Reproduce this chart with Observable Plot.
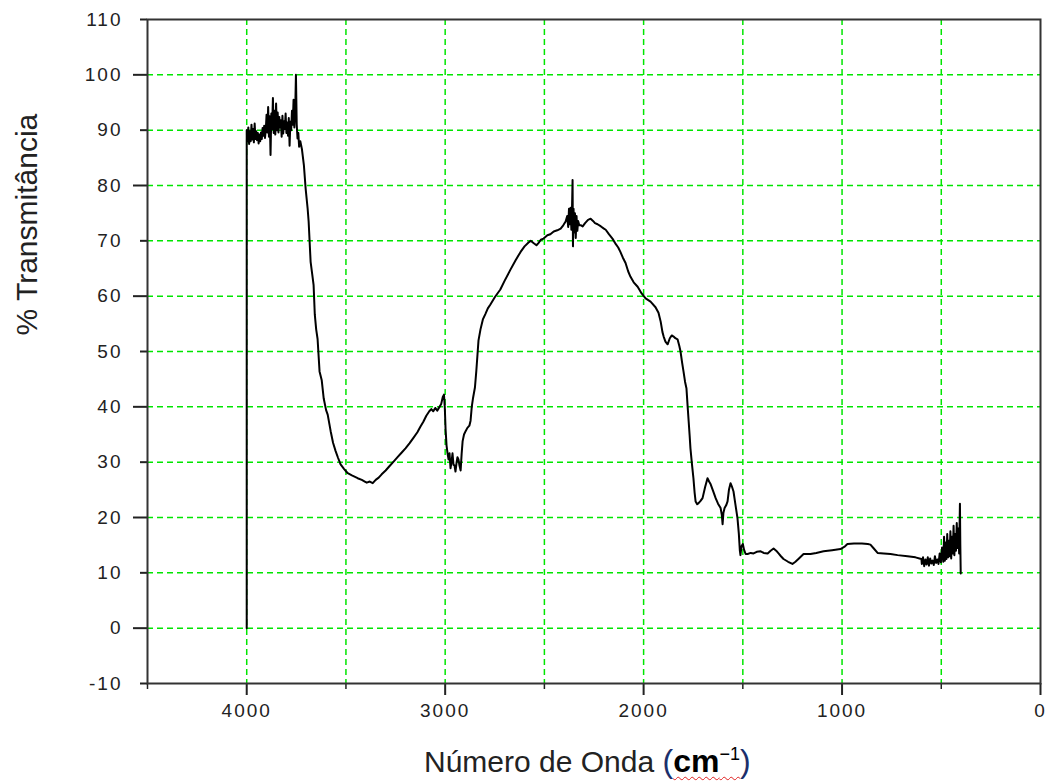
<!DOCTYPE html>
<html>
<head>
<meta charset="utf-8">
<script src="https://cdn.jsdelivr.net/npm/d3@7"></script>
<script src="https://cdn.jsdelivr.net/npm/@observablehq/plot@0.6"></script>
<style>
  html, body { margin: 0; padding: 0; background: #fff; }
  #wrap { position: relative; width: 1047px; height: 782px; overflow: hidden; }
  g[aria-label$="tick label"] text { letter-spacing: 2px; }
  #xlabel { position: absolute; left: 424px; top: 736px; font-family: "Liberation Sans", Arial, sans-serif;
            font-size: 30px; color: #222; white-space: nowrap; line-height: 36px; }
  #xlabel .unit { color: #1c2f6b; font-size: 32px; }
  #xlabel .cm { color: #000; font-weight: bold; text-decoration: underline wavy #e02020; text-decoration-thickness: 1px; text-underline-offset: 4px; }
  #xlabel sup { font-size: 18px; font-weight: normal; }
</style>
</head>
<body>
<div id="wrap"></div>
<script>
// Wavenumber (cm^-1) and % transmittance
const wavenumber = [
4000,4000,3996,3992,3988,3984,3980,3976,3972,3968,3964,3960,3956,3952,3948,3944,3940,3936,3932,3928,
3924,3920,3916,3912,3908,3904,3900,3896,3892,3888,3884,3880,3876,3872,3868,3864,3860,3856,3852,3848,
3844,3840,3836,3832,3828,3824,3820,3816,3812,3808,3804,3800,3796,3792,3788,3784,3780,3776,3772,3768,
3764,3760,3756,3752,3748,3744,3740,3736,3730,3722,
3712,3703,3693,3688,3678,3670,3663,3657,3650,3643,
3633,3622,3612,3600,3592,3577,3565,3552,3540,3527,
3510,3491,3470,3441,3420,3405,3395,3380,3365,3350,
3335,3320,3300,3280,3260,3240,3220,3200,3180,3160,
3140,3125,3110,3095,3080,3070,3060,3050,3040,3030,
3020,3012,3006,3002,2998,2993,2988,2983,2978,2973,
2968,2963,2958,2953,2948,2943,2938,2933,2928,2922,
2917,2912,2905,2897,2888,2878,2872,2866,2860,2850,
2843,2837,2832,2822,2810,2797,2785,2772,2750,2722,
2700,2671,2645,2620,2600,2580,2569,2555,2540,2530,
2518,2504,2485,2470,2453,2435,2418,2405,2393,2385,
2380,2376,2372,2368,2364,2361,2358,2356,2353,2350,
2346,2342,2338,2334,2330,2324,2315,2307,2295,2280,
2267,2255,2245,2232,2215,2200,2191,2175,2157,2140,
2128,2117,2105,2091,2078,2066,2050,2030,2010,1990,
1965,1940,1925,1914,1905,1899,1890,1879,1868,1858,
1849,1840,1829,1820,1814,1806,1799,1791,1784,1778,
1773,1768,1764,1756,1749,1743,1738,1730,1723,1713,
1703,1690,1678,1670,1662,1650,1637,1625,1612,1606,
1602,1598,1592,1584,1577,1570,1562,1555,1547,1538,
1527,1520,1515,1512,1507,1500,1494,1486,1476,1460,
1446,1430,1410,1395,1375,1360,1345,1332,1320,1308,
1295,1272,1250,1235,1220,1194,1175,1159,1130,1093,
1050,1008,985,973,940,900,870,857,840,821,
790,756,720,670,630,610,600,598,592,586,
580,574,568,562,556,550,544,538,532,526,
520,514,508,502,496,490,486,482,478,474,
470,466,462,458,454,450,446,442,438,434,
430,426,422,418,414,410,406,404,402
];
const transmittance = [
0,90,88,90.5,87.5,89.8,88,91,88.3,90.2,87.8,91.2,88.4,89.8,88.2,89.5,87.6,89.2,88,89.6,
88.4,90.4,89,90.8,88.6,90,92.8,89.6,94.2,88.8,92.5,85.5,93,90.2,95.8,89.5,93.5,89.2,94.8,90,
93.2,89.6,92.4,90.5,91.8,88.8,92.6,89.4,91.6,90.2,93,89.5,91.4,89,92.2,87.2,91.5,90,93.5,91,
95.5,90.5,93,100,91,88.5,89.5,87,88,86.6,
83.7,79.4,75.8,73.5,66.2,64,62,56.7,54,52.3,
46.4,44.8,41.5,39.4,38.6,35.6,33.5,32,30.8,29.6,
28.8,28,27.6,27.1,26.8,26.5,26.3,26.5,26.2,26.8,
27.2,27.8,28.5,29.3,30.1,30.9,31.7,32.5,33.4,34.4,
35.4,36.4,37.3,38.4,39.2,39.6,39.2,39.8,39.3,39.9,
40.5,41.8,42.2,40,36,33,31.6,30.5,31.6,28.9,
30,31.6,29.5,29.4,28.3,29.8,30.9,30.5,29.4,28.5,
31.5,33.8,35,35.6,36.2,36.6,37.5,40,41.5,43.5,
46.5,49.5,52,54,55.8,56.8,57.8,58.5,59.8,61.2,
62.8,64.8,66.5,68,69,69.7,70,69.6,69.2,69.6,
70.2,70.4,71,71.2,71.7,71.9,72.2,72.8,73.5,74.5,
72.5,75.8,73,76,72,75.5,81,69,75.8,71.5,
75,70.5,74.5,71.8,73.6,72.8,72.8,72.6,73.2,73.8,
74,73.6,73.2,73,72.6,72.2,72,71.2,70.4,69.4,
68.8,68,67,66,64.5,63.5,62.5,61.7,60.5,59.6,
59,58,57,55.4,53.5,52.7,51.8,51.3,52.4,52.9,
52.7,52.4,52.2,51,50,48,46.4,44.5,43.3,40,
37.4,34.8,32.5,29.5,27.1,24.5,22.9,22.4,22.6,23,
23.5,25.5,27.1,26.5,26,24.8,23.5,22.5,21.7,20.5,
18.8,20.8,21.7,22.2,22.9,25,26.2,25.6,24.7,22.5,
19.9,17,14,13.2,14.8,15.2,14.2,13.4,13.4,13.6,
13.5,13.8,13.9,13.6,13.5,14,14.4,14,13.5,13,
12.5,12,11.6,12,12.5,13.4,13.4,13.4,13.6,13.9,
14.1,14.3,14.8,15.2,15.3,15.3,15.2,15.1,14.4,13.6,
13.5,13.4,13.2,13,12.8,12.6,12.5,11.6,12.8,11.2,
12.4,11.5,12.8,11.3,12.6,11.7,12.2,11.4,13,11.8,
12.4,11.6,13.5,11.9,14.6,12,16.5,12.2,15.5,12.5,
17,12.8,15.8,13,17.5,12.6,16.5,13.5,18.5,13.2,
17,14,19,14.5,18,13.5,22.5,15,9.9
];

const xMajor = [4000, 3000, 2000, 1000, 0];
const xMinor = [4500, 3500, 2500, 1500, 500];
const xGrid = [4000, 3500, 3000, 2500, 2000, 1500, 1000, 500];
const yMajor = [100, 80, 60, 40, 20, 0];
const yMinor = [110, 90, 70, 50, 30, 10, -10];
const yGrid = [100, 90, 80, 70, 60, 50, 40, 30, 20, 10, 0];
const yTitle = "% Transmitância";

const spectrum = wavenumber.map((w, i) => ({w, t: transmittance[i]}));

const gridStyle = {stroke: "#00e600", strokeOpacity: 1, strokeWidth: 1.5, strokeDasharray: "6,4"};
const tickFont = {fontSize: 19, fill: "#222"};
const plain = d => String(d);

const chart = Plot.plot({
  width: 1047,
  height: 735,
  marginTop: 19,
  marginBottom: 52,
  marginLeft: 147,
  marginRight: 7,
  style: {fontFamily: "'Liberation Sans', Arial, sans-serif", color: "#222", background: "#fff"},
  x: {domain: [4500, 0], label: null},
  y: {domain: [-10, 110], label: null},
  marks: [
    Plot.gridX(xGrid, gridStyle),
    Plot.gridY(yGrid, gridStyle),
    Plot.axisX({ticks: xMajor, tickSize: 12, tickPadding: 8, tickFormat: plain, stroke: "#222", strokeWidth: 2, ...tickFont, label: null}),
    Plot.axisX({ticks: xMinor, tickSize: 6, tickFormat: () => "", stroke: "#222", strokeWidth: 1.5, label: null}),
    Plot.axisY({ticks: yMajor, tickSize: 14, tickPadding: 11, tickFormat: plain, stroke: "#222", strokeWidth: 2, ...tickFont, label: null}),
    Plot.axisY({ticks: yMinor, tickSize: 7, tickPadding: 18, tickFormat: plain, stroke: "#222", strokeWidth: 2, ...tickFont, label: null}),
    Plot.frame({stroke: "#333", strokeWidth: 2}),
    Plot.line(spectrum, {x: "w", y: "t", stroke: "#000", strokeWidth: 2, curve: "linear"}),
    Plot.text([yTitle], {text: d => d, frameAnchor: "left", rotate: -90, dx: -120, dy: -16, fontSize: 30, fill: "#222"})
  ]
});

const wrap = document.getElementById("wrap");
wrap.appendChild(chart);
const xl = document.createElement("div");
xl.id = "xlabel";
xl.innerHTML = 'Número de Onda <span class="unit">(<span class="cm">cm<sup>−1</sup></span>)</span>';
wrap.appendChild(xl);
</script>
</body>
</html>
